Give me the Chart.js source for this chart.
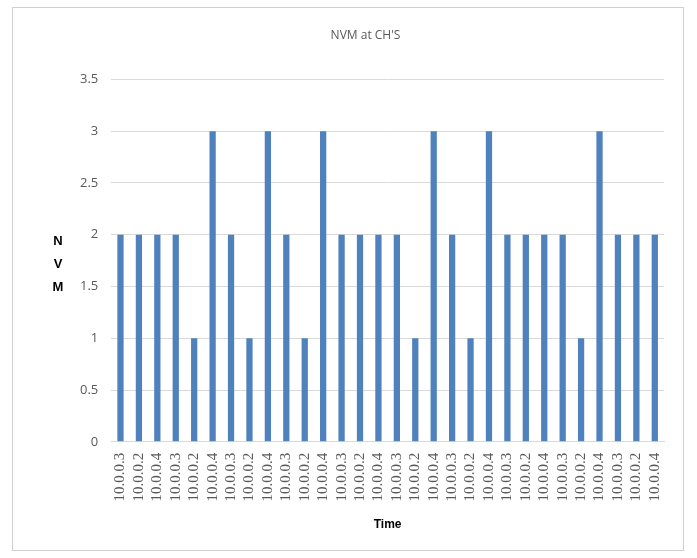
<!DOCTYPE html>
<html>
<head>
<meta charset="utf-8">
<script src="https://cdn.jsdelivr.net/npm/chart.js@4"></script>
<style>
  html, body { margin: 0; padding: 0; background: #fff; }
  #wrap { width: 697px; height: 558px; position: relative; }
</style>
</head>
<body>
<div id="wrap"><canvas id="chartNvm" width="697" height="558"></canvas></div>
<script>
const ips = ['10.0.0.3', '10.0.0.2', '10.0.0.4'];
const categorias = [];
for (let i = 0; i < 30; i++) categorias.push(ips[i % 3]);

const nvm = [2, 2, 2, 2, 1, 3, 2, 1, 3, 2, 1, 3, 2, 2, 2, 2, 1, 3, 2, 1, 3, 2, 2, 2, 2, 1, 3, 2, 2, 2];
const yTicks = [0, 0.5, 1, 1.5, 2, 2.5, 3, 3.5];

// marco y titulo vertical "N V M"
const decorado = {
  id: 'decorado',
  beforeDraw(chart) {
    const c = chart.ctx;
    c.save();
    c.fillStyle = '#fff';
    c.fillRect(0, 0, chart.width, chart.height);
    c.strokeStyle = '#d0d0d0';
    c.lineWidth = 1;
    c.strokeRect(12.5, 7.5, 671, 543);
    c.restore();
  },
  afterDraw(chart) {
    const c = chart.ctx;
    c.save();
    c.fillStyle = '#000';
    c.font = 'bold 13px "Liberation Sans", Arial, sans-serif';
    c.textAlign = 'center';
    c.textBaseline = 'middle';
    ['N', 'V', 'M'].forEach((l, i) => c.fillText(l, 58, 241 + i * 23));
    c.restore();
  }
};

new Chart(document.getElementById('chartNvm').getContext('2d'), {
  type: 'bar',
  data: {
    labels: categorias,
    datasets: [{
      label: 'NVM',
      data: nvm,
      backgroundColor: '#4f81bd',
      borderWidth: 0,
      categoryPercentage: 1,
      barPercentage: 0.34
    }]
  },
  options: {
    responsive: false,
    animation: false,
    layout: { padding: { left: 67, right: 33, top: 14, bottom: 22 } },
    plugins: {
      legend: { display: false },
      tooltip: { enabled: false },
      title: {
        display: true,
        text: "NVM at CH'S",
        color: '#595959',
        font: { family: '"Open Sans", "Liberation Sans", sans-serif', size: 12, weight: 'normal' },
        padding: { top: 14, bottom: 37 }
      }
    },
    scales: {
      y: {
        min: 0,
        max: 3.5,
        afterBuildTicks: axis => { axis.ticks = yTicks.map(v => ({ value: v })); },
        grid: { color: '#d9d9d9', lineWidth: 1, drawTicks: false },
        border: { display: false },
        ticks: {
          color: '#595959',
          padding: 13,
          callback: v => String(v),
          font: { family: '"Open Sans", "Liberation Sans", sans-serif', size: 13 }
        }
      },
      x: {
        grid: { display: false, drawTicks: false },
        border: { display: true, color: '#d9d9d9' },
        ticks: {
          color: '#595959',
          minRotation: 90,
          maxRotation: 90,
          autoSkip: false,
          padding: 11,
          font: { family: '"Liberation Serif", "DejaVu Serif", serif', size: 15 }
        },
        title: {
          display: true,
          text: 'Time',
          color: '#000',
          font: { family: '"Liberation Sans", Arial, sans-serif', size: 12, weight: 'bold' },
          padding: { top: 5 }
        }
      }
    }
  },
  plugins: [decorado]
});
</script>
</body>
</html>
